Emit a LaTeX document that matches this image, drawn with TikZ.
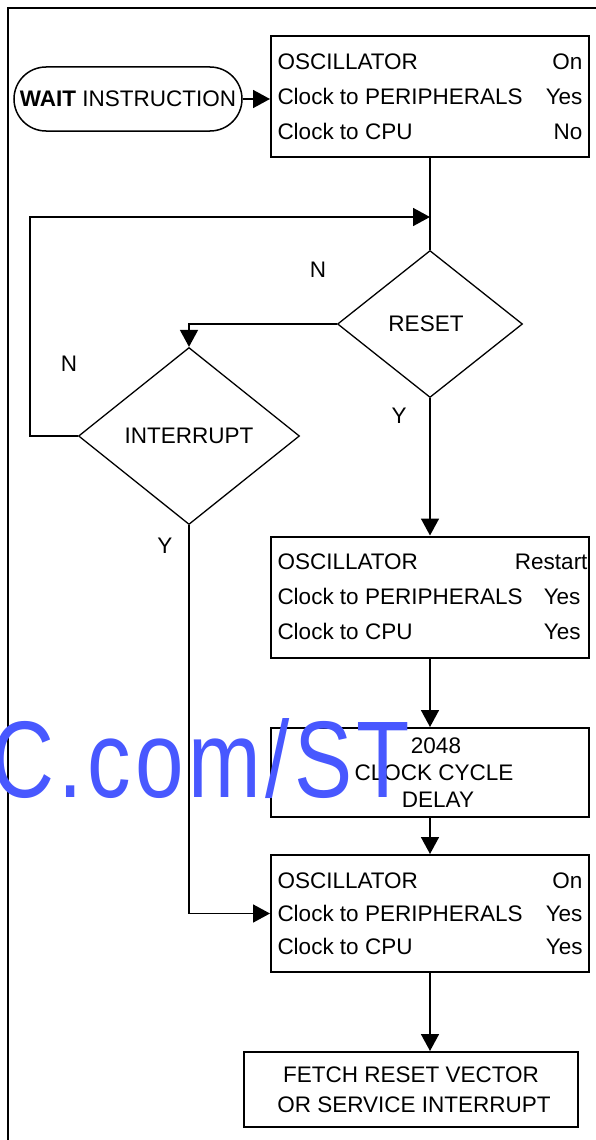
\documentclass[tikz,border=0pt]{standalone}
\usepackage{fontspec}
\setmainfont{Liberation Sans}
\usetikzlibrary{positioning, shapes.geometric, arrows.meta}
\definecolor{wmblue}{HTML}{4858FF}

\newcommand{\clockrow}[2]{\makebox[305pt]{#1\hfill#2}}
\newcommand{\clockrows}[3]{%
  \clockrow{OSCILLATOR}{#1}\\
  \clockrow{Clock to PERIPHERALS}{#2}\\
  \clockrow{Clock to CPU}{#3}}

\begin{document}
\begin{tikzpicture}[
    x=1pt, y=-1pt,
    every node/.style={font=\fontsize{22.5}{27}\selectfont},
    terminal/.style={draw, line width=1.5pt, rounded corners=32pt, minimum width=228pt, minimum height=64pt, inner sep=0pt},
    statebox/.style={draw, line width=2pt, minimum width=318pt, minimum height=121pt, inner sep=6pt, align=left, font=\fontsize{22.5}{35}\selectfont},
    textbox/.style={draw, line width=2pt, inner sep=0pt, align=center},
    decision/.style={draw, diamond, line width=1.3pt, inner sep=0pt},
    conn/.style={line width=1.7pt, -{Triangle[length=17pt, width=18pt]}},
    plainconn/.style={line width=1.7pt},
    wmark/.style={text=wmblue, font=\fontsize{109}{109}\selectfont, inner sep=0pt},
]
\useasboundingbox (0,0) rectangle (595,1140);

% ── Frame ──
\draw[line width=2.5pt] (600,8) -- (8,8) -- (8,1150);

% ── Entry ──
\node[terminal] (wait) at (128,99) {\textbf{WAIT} INSTRUCTION};
\node[statebox] (osc1) at (430,96.5) {\clockrows{On}{Yes}{No}};

% ── Decisions ──
\coordinate (join) at (430,217);
\coordinate (loopx) at (30,0);
\node[decision, minimum width=185pt, minimum height=147pt] (reset) at (430,324) {\hspace{-8pt}RESET};
\node[decision, minimum width=221pt, minimum height=177pt] (intr) at (189,436) {INTERRUPT};

\node (n1) at (318,270) {N};
\node (y1) at (399,416) {Y};
\node (n2) at (69,364) {N};
\node (y2) at (165,546) {Y};

% ── Wake-up sequence ──
\node[statebox] (osc2) at (430,597) {\clockrows{Restart\hspace{-5pt}}{Yes\hspace{2pt}}{Yes\hspace{2pt}}};
\node[textbox, minimum width=318pt, minimum height=89pt] (delay) at (430,772.5) {\hspace{12pt}2048\\\hspace{8pt}CLOCK CYCLE\\\hspace{16pt}DELAY};
\node[statebox, minimum height=117pt, font=\fontsize{22.5}{33}\selectfont] (osc3) at (430,913.5) {\clockrows{On}{Yes}{Yes}};
\node[textbox, minimum width=334pt, minimum height=75pt, font=\fontsize{22.5}{30}\selectfont] (fetch) at (411,1089.5) {FETCH RESET VECTOR\\\hspace{6pt}OR SERVICE INTERRUPT};

% ── Connectors ──
\draw[conn] (wait.east) -- (wait.east -| osc1.west);
\draw[plainconn] (osc1.south) -- (reset.north);
\draw[conn] (reset.west) -| (intr.north);
\draw[conn] (intr.west) -- (intr.west -| loopx) |- (join);
\draw[conn] (reset.south) -- (osc2.north);
\draw[conn] (osc2.south) -- (delay.north);
\draw[conn] (delay.south) -- (osc3.north);
\draw[conn] (intr.south) |- (osc3.west);
\draw[conn] (osc3.south) -- (osc3.south |- fetch.north);

% ── Watermark ──
\node[wmark, anchor=base east] (wm) at (410,797) {\scalebox{0.8}[1]{\addfontfeature{LetterSpace=5}C.com/ST}};

\end{tikzpicture}
\end{document}
